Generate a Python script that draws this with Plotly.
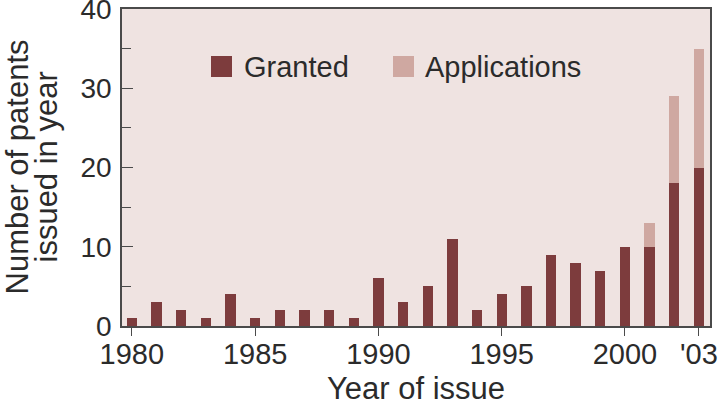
import plotly.graph_objects as go

years = list(range(1980, 2004))
granted = [1, 3, 2, 1, 4, 1, 2, 2, 2, 1, 6, 3, 5, 11, 2, 4, 5, 9, 8, 7, 10, 10, 18, 20]
applications = [0] * 21 + [3, 11, 15]
tick_vals = [1980, 1985, 1990, 1995, 2000, 2003]
tick_text = ["1980", "1985", "1990", "1995", "2000", "'03"]

C_GRANTED = "#7d3c3d"
C_APPS = "#cfa8a1"
BG = "#efe3e1"
TXT = "#2b2b2b"
FONT = "Liberation Sans, Arial, sans-serif"

W, H = 720, 405
L, R, T, B = 122, 10, 9, 79
PW, PH = W - L - R, H - T - B

def px(x):
    return (x - L) / PW

def py(y):
    return (H - B - y) / PH

fig = go.Figure()
fig.add_trace(go.Bar(x=years, y=granted, name="Granted", marker_color=C_GRANTED,
                     width=0.42, marker_line_width=0, showlegend=False))
fig.add_trace(go.Bar(x=years, y=applications, name="Applications", marker_color=C_APPS,
                     width=0.42, marker_line_width=0, showlegend=False))

fig.update_layout(
    barmode="stack",
    width=W, height=H,
    margin=dict(l=L, r=R, t=T, b=B, autoexpand=False),
    paper_bgcolor="white",
    plot_bgcolor=BG,
    font=dict(family=FONT, color=TXT),
    xaxis=dict(
        range=[1979.6, 2003.45], automargin=False, ticklabeloverflow="allow",
        tickmode="array", tickvals=tick_vals, ticktext=tick_text,
        ticks="outside", ticklen=8, tickwidth=1.3, tickcolor="#4a4a4a",
        ticklabelstandoff=-7,
        tickfont=dict(size=29, color=TXT),
        showline=True, linecolor="#4a4a4a", linewidth=1.5, mirror=True,
        showgrid=False, zeroline=False,
    ),
    yaxis=dict(
        range=[0, 40], automargin=False, ticklabeloverflow="allow",
        tickmode="array", tickvals=[0, 10, 20, 30, 40],
        ticks="inside", ticklen=11, tickwidth=1.3, tickcolor="#4a4a4a",
        ticklabelstandoff=3,
        tickfont=dict(size=28, color=TXT),
        minor=dict(tickmode="array", tickvals=[5, 15, 25, 35], ticks="inside",
                   ticklen=9, tickwidth=1.3, tickcolor="#4a4a4a", showgrid=False),
        showline=True, linecolor="#4a4a4a", linewidth=1.5, mirror=True,
        showgrid=False, zeroline=False,
    ),
)

# Legend drawn manually (larger swatches than plotly's legend allows)
legend_items = [("Granted", C_GRANTED, 211, 242), ("Applications", C_APPS, 393, 423)]
for name, col, sx, tx in legend_items:
    fig.add_shape(type="rect", xref="paper", yref="paper",
                  x0=px(sx), x1=px(sx + 21), y0=py(77), y1=py(56),
                  fillcolor=col, line_width=0)
    fig.add_annotation(xref="paper", yref="paper", x=px(tx), y=py(67),
                       xanchor="left", yanchor="middle", text=name, showarrow=False,
                       font=dict(size=29, color=TXT))

# Axis titles
fig.add_annotation(xref="paper", yref="paper", x=0.5, y=0, yshift=-62,
                   xanchor="center", yanchor="middle", text="Year of issue",
                   showarrow=False, font=dict(size=31, color=TXT))
fig.add_annotation(xref="paper", yref="paper", x=0, y=0.5, xshift=17 - L,
                   xanchor="center", yanchor="middle", textangle=-90,
                   text="Number of patents", showarrow=False,
                   font=dict(size=31, color=TXT))
fig.add_annotation(xref="paper", yref="paper", x=0, y=0.5, xshift=46 - L,
                   xanchor="center", yanchor="middle", textangle=-90,
                   text="issued in year", showarrow=False,
                   font=dict(size=31, color=TXT))

fig.write_html("out.html", config={"displayModeBar": False},
               post_script="document.body.style.margin='0';document.body.style.overflow='hidden';")
